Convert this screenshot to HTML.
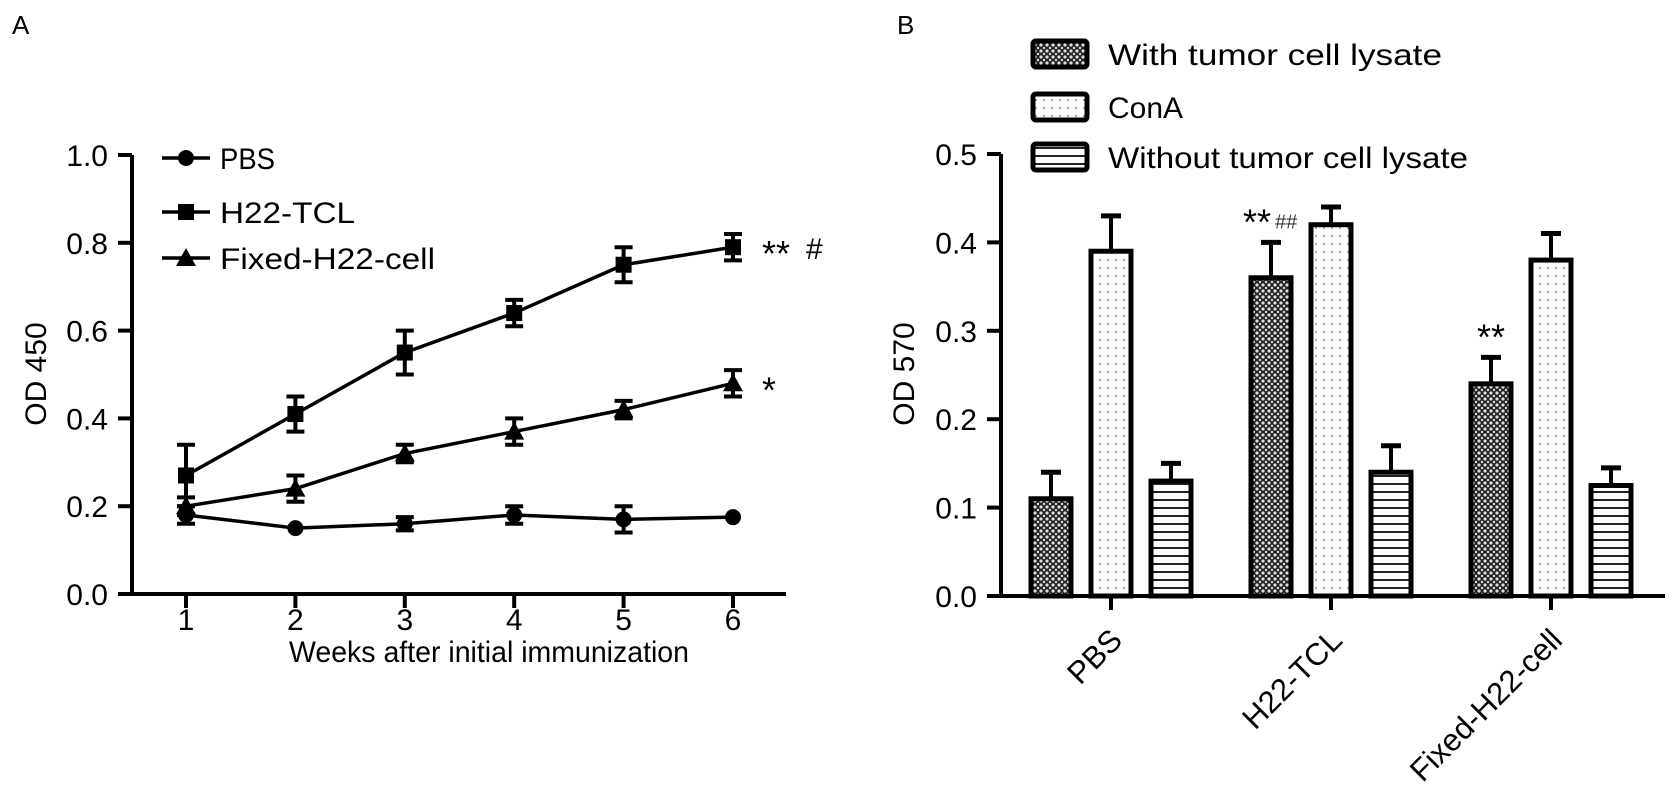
<!DOCTYPE html>
<html><head><meta charset="utf-8">
<style>
html,body{margin:0;padding:0;background:#fff;}
svg{display:block;font-family:"Liberation Sans",Arial,sans-serif;}
</style></head>
<body>
<svg id="fig" width="1679" height="800" viewBox="0 0 1679 800">
<defs>
<pattern id="pCross" width="6" height="6" patternUnits="userSpaceOnUse">
<rect width="6" height="6" fill="#222"/><circle cx="3" cy="3" r="1.6" fill="#ddd"/><circle cx="0" cy="0" r="1.2" fill="#ddd"/><circle cx="6" cy="0" r="1.2" fill="#ddd"/><circle cx="0" cy="6" r="1.2" fill="#ddd"/><circle cx="6" cy="6" r="1.2" fill="#ddd"/>
</pattern>
<pattern id="pDot" width="8" height="8" patternUnits="userSpaceOnUse">
<rect width="8" height="8" fill="#fff"/><circle cx="4" cy="4" r="1" fill="#888"/>
</pattern>
<pattern id="pStripe" width="8" height="8" patternUnits="userSpaceOnUse">
<rect width="8" height="8" fill="#fff"/><rect y="3" width="8" height="2" fill="#222"/>
</pattern>
</defs>
<text x="12" y="34" font-size="26">A</text>
<text x="897" y="34" font-size="26">B</text>
<g id="gA"></g>
<g id="gB"></g>
</svg>
<script>
// Panel A data
const weeks = [1,2,3,4,5,6];
const yTicksA = [0.0,0.2,0.4,0.6,0.8,1.0];
const yTickLabelsA = ["0.0","0.2","0.4","0.6","0.8","1.0"];
const pbsVals = [0.18,0.15,0.16,0.18,0.17,0.175];
const pbsErr = [0.02,0.0,0.015,0.02,0.03,0.0];
const h22Vals = [0.27,0.41,0.55,0.64,0.75,0.79];
const h22Err = [0.07,0.04,0.05,0.03,0.04,0.03];
const fixedVals = [0.20,0.24,0.32,0.37,0.42,0.48];
const fixedErr = [0.02,0.03,0.02,0.03,0.02,0.03];
const seriesNamesA = ["PBS","H22-TCL","Fixed-H22-cell"];
// Panel B data
const groupsB = ["PBS","H22-TCL","Fixed-H22-cell"];
const withVals = [0.11,0.36,0.24];
const withErr = [0.03,0.04,0.03];
const conaVals = [0.39,0.42,0.38];
const conaErr = [0.04,0.02,0.03];
const withoutVals = [0.13,0.14,0.125];
const withoutErr = [0.02,0.03,0.02];
const yTicksB = [0.0,0.1,0.2,0.3,0.4,0.5];
const yTickLabelsB = ["0.0","0.1","0.2","0.3","0.4","0.5"];
const legendB = ["With tumor cell lysate","ConA","Without tumor cell lysate"];

const NS="http://www.w3.org/2000/svg";
function mk(tag,attrs,parent,txt){const e=document.createElementNS(NS,tag);for(const k in attrs)e.setAttribute(k,attrs[k]);if(txt!==undefined)e.textContent=txt;parent.appendChild(e);return e;}

// ---- Panel A ----
const gA=document.getElementById('gA');
const axA={x0:132,y0:594,yTop:155};
const xA=w=>186+(w-1)*109.4;
const yA=v=>axA.y0-(v/1.0)*(axA.y0-axA.yTop);
let e;
e=mk('line',{x1:axA.x0,y1:axA.yTop,x2:axA.x0,y2:axA.y0,stroke:'#000','stroke-width':4},gA);


e=mk('line',{x1:118,y1:axA.y0,x2:786,y2:axA.y0,stroke:'#000','stroke-width':4},gA);


yTicksA.forEach((t,i)=>{
  mk('line',{x1:118,y1:yA(t),x2:axA.x0,y2:yA(t),stroke:'#000','stroke-width':4},gA);
  e=mk('text',{x:108,y:yA(t)+11,'font-size':30,'text-anchor':'end'},gA,yTickLabelsA[i]);
  
  
});
weeks.forEach(w=>{
  mk('line',{x1:xA(w),y1:axA.y0,x2:xA(w),y2:axA.y0+14,stroke:'#000','stroke-width':4},gA);
  e=mk('text',{x:xA(w),y:630,'font-size':30,'text-anchor':'middle'},gA,String(w));
  
  
});
e=mk('text',{x:289,y:662,'font-size':30,textLength:400,lengthAdjust:'spacingAndGlyphs'},gA,'Weeks after initial immunization');


e=mk('text',{x:0,y:0,'font-size':30,'text-anchor':'middle',transform:'translate(46,374) rotate(-90)'},gA,'OD 450');



function marker(kind,cx,cy,parent){
  if(kind===0) return mk('circle',{cx:cx,cy:cy,r:8,fill:'#000'},parent);
  if(kind===1) return mk('rect',{x:cx-8,y:cy-8,width:16,height:16,fill:'#000'},parent);
  return mk('polygon',{points:`${cx},${cy-10} ${cx-10},${cy+8} ${cx+10},${cy+8}`,fill:'#000'},parent);
}
const allA=[[pbsVals,pbsErr],[h22Vals,h22Err],[fixedVals,fixedErr]];
allA.forEach(([vals,errs],si)=>{
  const g=mk('g',{},gA);
  
  
  const pts=vals.map((v,i)=>xA(weeks[i])+','+yA(v)).join(' ');
  mk('polyline',{points:pts,fill:'none',stroke:'#000','stroke-width':3.5},g);
  vals.forEach((v,i)=>{
    const x=xA(weeks[i]);
    if(errs[i]>0){
      const yh=yA(v+errs[i]), yl=yA(v-errs[i]);
      mk('line',{x1:x,y1:yh,x2:x,y2:yl,stroke:'#000','stroke-width':4},g);
      mk('line',{x1:x-9,y1:yh,x2:x+9,y2:yh,stroke:'#000','stroke-width':4},g);
      mk('line',{x1:x-9,y1:yl,x2:x+9,y2:yl,stroke:'#000','stroke-width':4},g);
    }
    const m=marker(si,x,yA(v),g);
    
    
  });
});
e=mk('text',{x:762,y:yA(h22Vals[5])+19,'font-size':36},gA,'**');


e=mk('text',{x:806,y:yA(h22Vals[5])+12,'font-size':30},gA,'#');


e=mk('text',{x:762,y:yA(fixedVals[5])+19,'font-size':36},gA,'*');


const legYA=[158,212,258];
const legWA=[55,135,215];
seriesNamesA.forEach((n,i)=>{
  const g=mk('g',{},gA);
  
  
  mk('line',{x1:162,y1:legYA[i],x2:210,y2:legYA[i],stroke:'#000','stroke-width':3.5},g);
  marker(i,186,legYA[i],g);
  mk('text',{x:220,y:legYA[i]+11,'font-size':30,textLength:legWA[i],lengthAdjust:'spacingAndGlyphs'},g,n);
});

// ---- Panel B ----
const gB=document.getElementById('gB');
const axB={x0:1001,y0:596,yTop:154};
const yB=v=>axB.y0-(v/0.5)*(axB.y0-axB.yTop);
const groupCenter=i=>1111+i*220;
e=mk('line',{x1:axB.x0,y1:axB.yTop,x2:axB.x0,y2:axB.y0,stroke:'#000','stroke-width':4},gB);


e=mk('line',{x1:987,y1:axB.y0,x2:1665,y2:axB.y0,stroke:'#000','stroke-width':4},gB);


yTicksB.forEach((t,i)=>{
  mk('line',{x1:987,y1:yB(t),x2:axB.x0,y2:yB(t),stroke:'#000','stroke-width':4},gB);
  e=mk('text',{x:977,y:yB(t)+11,'font-size':30,'text-anchor':'end'},gB,yTickLabelsB[i]);
  
  
});
e=mk('text',{x:0,y:0,'font-size':30,'text-anchor':'middle',transform:'translate(914,374) rotate(-90)'},gB,'OD 570');


groupsB.forEach((gname,i)=>{
  const x=groupCenter(i);
  mk('line',{x1:x,y1:axB.y0,x2:x,y2:axB.y0+14,stroke:'#000','stroke-width':4},gB);
  e=mk('text',{x:0,y:0,'font-size':31,'text-anchor':'end',transform:`translate(${x+13},${axB.y0+46}) rotate(-45)`},gB,gname);
  
  
});
const fills=['url(#pCross)','url(#pDot)','url(#pStripe)'];
const allB=[[withVals,withErr],[conaVals,conaErr],[withoutVals,withoutErr]];
const barW=40;
allB.forEach(([vals,errs],si)=>{
  vals.forEach((v,gi)=>{
    const cx=groupCenter(gi)+(si-1)*60;
    const eb=mk('line',{x1:cx,y1:yB(v),x2:cx,y2:yB(v+errs[gi]),stroke:'#000','stroke-width':4},gB);
    
    
    mk('line',{x1:cx-10,y1:yB(v+errs[gi]),x2:cx+10,y2:yB(v+errs[gi]),stroke:'#000','stroke-width':5},gB);
    const r=mk('rect',{x:cx-barW/2,y:yB(v),width:barW,height:axB.y0-yB(v),fill:fills[si],stroke:'#000','stroke-width':5},gB);
    
    
  });
});
e=mk('text',{x:groupCenter(1)-60,y:yB(withVals[1]+withErr[1])-8,'font-size':36,'text-anchor':'end'},gB,'**');


e=mk('text',{x:groupCenter(1)-56,y:yB(withVals[1]+withErr[1])-14,'font-size':20,'text-anchor':'start',fill:'#333'},gB,'##');


e=mk('text',{x:groupCenter(2)-60,y:yB(withVals[2]+withErr[2])-8,'font-size':36,'text-anchor':'middle'},gB,'**');


const legYB=[54,107,157];
const legWB=[334,75,360];
legendB.forEach((n,i)=>{
  const g=mk('g',{},gB);
  
  
  mk('rect',{x:1033,y:legYB[i]-13,width:54,height:26,fill:fills[i],stroke:'#000','stroke-width':5,rx:3},g);
  mk('text',{x:1108,y:legYB[i]+11,'font-size':30,textLength:legWB[i],lengthAdjust:'spacingAndGlyphs'},g,n);
});
</script>
</body></html>
